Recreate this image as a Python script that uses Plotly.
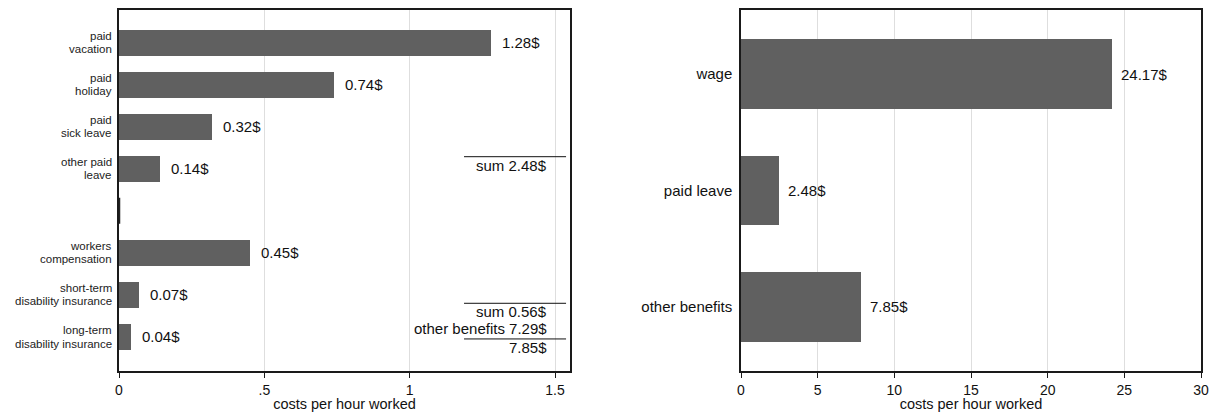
import plotly.graph_objects as go

# ---------------- data ----------------
leave_labels = ["paid<br>vacation", "paid<br>holiday", "paid<br>sick leave", "other paid<br>leave"]
leave_values = [1.28, 0.74, 0.32, 0.14]
insurance_labels = ["workers<br>compensation", "short-term<br>disability insurance",
                    "long-term<br>disability insurance"]
insurance_values = [0.45, 0.07, 0.04]
other_benefits_value = 7.29

total_labels = ["wage", "paid leave", "other benefits"]
total_values = [24.17, 2.48, 7.85]

left_tickvals = [0, 0.5, 1, 1.5]
left_ticktext = ["0", ".5", "1", "1.5"]
right_tickvals = [0, 5, 10, 15, 20, 25, 30]
right_ticktext = ["0", "5", "10", "15", "20", "25", "30"]
x_title = "costs per hour worked"

# ---------------- style ----------------
FONT = "Liberation Sans, Arial, Helvetica, sans-serif"
BAR = "#606060"
GRID = "#dedede"
LINE = "#1a1a1a"

leave_pos = list(range(len(leave_labels)))
gap_pos = len(leave_labels)
ins_pos = [gap_pos + 1 + i for i in range(len(insurance_labels))]

fig = go.Figure()

fig.add_trace(go.Bar(
    x=leave_values + [0] + insurance_values,
    y=leave_pos + [gap_pos] + ins_pos,
    orientation="h", width=0.62,
    marker=dict(color=BAR, line=dict(width=0)),
    xaxis="x", yaxis="y", showlegend=False, hoverinfo="skip",
))

fig.add_trace(go.Bar(
    x=total_values, y=total_labels,
    orientation="h", width=0.6,
    marker=dict(color=BAR, line=dict(width=0)),
    xaxis="x2", yaxis="y2", showlegend=False, hoverinfo="skip",
))

annotations = []
shapes = []

# category labels for left panel (two tight lines)
for lab, pos in zip(leave_labels + insurance_labels, leave_pos + ins_pos):
    lines = lab.split("<br>")
    for k, ln in enumerate(lines):
        shift = 6.6 if k == 0 else -6.6
        annotations.append(dict(
            x=0, y=pos, xref="x", yref="y", text=ln, showarrow=False,
            xanchor="right", yanchor="middle", xshift=-6, yshift=shift,
            borderpad=0,
            font=dict(family=FONT, size=11.5, color="#222"),
        ))

# value labels left
for v, pos in zip(leave_values + insurance_values, leave_pos + ins_pos):
    annotations.append(dict(
        x=v, y=pos, xref="x", yref="y", text=f"{v:.2f}$", showarrow=False,
        xanchor="left", yanchor="middle", xshift=9,
        font=dict(family=FONT, size=15, color="#111"),
    ))

# value labels right
for v, lab in zip(total_values, total_labels):
    annotations.append(dict(
        x=v, y=lab, xref="x2", yref="y2", text=f"{v:.2f}$", showarrow=False,
        xanchor="left", yanchor="middle", xshift=7,
        font=dict(family=FONT, size=15, color="#111"),
    ))

# zero-bar marker for gap row
shapes.append(dict(type="line", xref="x", yref="y", x0=0, x1=0,
                   y0=gap_pos - 0.31, y1=gap_pos + 0.31,
                   line=dict(color="#222", width=2.5)))

# summary lines & texts
sum_leave = sum(leave_values)
sum_ins = sum(insurance_values)
total_other = sum_ins + other_benefits_value
line_x0, line_x1 = 1.187, 1.538
text_x = 1.5

def hline(y):
    shapes.append(dict(type="line", xref="x", yref="y", x0=line_x0, x1=line_x1,
                       y0=y, y1=y, line=dict(color="#111", width=1)))

def txt(y, s):
    annotations.append(dict(x=text_x, y=y, xref="x", yref="y", text=s, showarrow=False,
                            xanchor="right", yanchor="middle", xshift=-7, borderpad=0,
                            font=dict(family=FONT, size=15, color="#111")))

last_leave = leave_pos[-1]
hline(last_leave - 0.286)
txt(last_leave - 0.071, f"sum {sum_leave:.2f}$")

last_ins = ins_pos[-1]
hline(last_ins - 0.80)
txt(last_ins - 0.60, f"sum {sum_ins:.2f}$")
txt(last_ins - 0.19, f"other benefits {other_benefits_value:.2f}$")
hline(last_ins + 0.048)
txt(last_ins + 0.262, f"{total_other:.2f}$")

W = 1216
common_x = dict(
    showgrid=True, gridcolor=GRID, gridwidth=1, zeroline=False,
    showline=True, linecolor=LINE, linewidth=1.5, mirror=True,
    ticks="outside", ticklen=5, tickwidth=1, tickcolor=LINE,
    tickfont=dict(family=FONT, size=14, color="#111"),
    title=dict(text=x_title, font=dict(family=FONT, size=14.5, color="#111"), standoff=4),
    automargin=False, fixedrange=True,
)

fig.update_layout(
    width=W, height=412,
    margin=dict(l=0, r=0, t=10, b=41),
    paper_bgcolor="white", plot_bgcolor="white",
    bargap=0,
    xaxis=dict(domain=[119 / W, 570 / W], range=[0, 1.5516],
               tickmode="array", tickvals=left_tickvals, ticktext=left_ticktext,
               anchor="y", **common_x),
    yaxis=dict(domain=[0, 1], range=[7.81, -0.774], showgrid=False, zeroline=False,
               showticklabels=False, ticks="", showline=True, linecolor=LINE,
               linewidth=1.5, mirror=True, anchor="x", fixedrange=True),
    xaxis2=dict(domain=[741 / W, 1201 / W], range=[0, 30],
                tickmode="array", tickvals=right_tickvals, ticktext=right_ticktext,
                anchor="y2", **common_x),
    yaxis2=dict(domain=[0, 1], range=[2.55, -0.55], type="category",
                categoryorder="array", categoryarray=total_labels,
                showgrid=False, zeroline=False, ticks="", ticklabelstandoff=4,
                tickfont=dict(family=FONT, size=15, color="#111"),
                showline=True, linecolor=LINE, linewidth=1.5, mirror=True,
                anchor="x2", automargin=False, fixedrange=True),
    annotations=annotations,
    shapes=shapes,
)

fig.write_html("out.html", config={"displayModeBar": False},
               post_script="document.body.style.margin='0';document.body.style.overflow='hidden';")
